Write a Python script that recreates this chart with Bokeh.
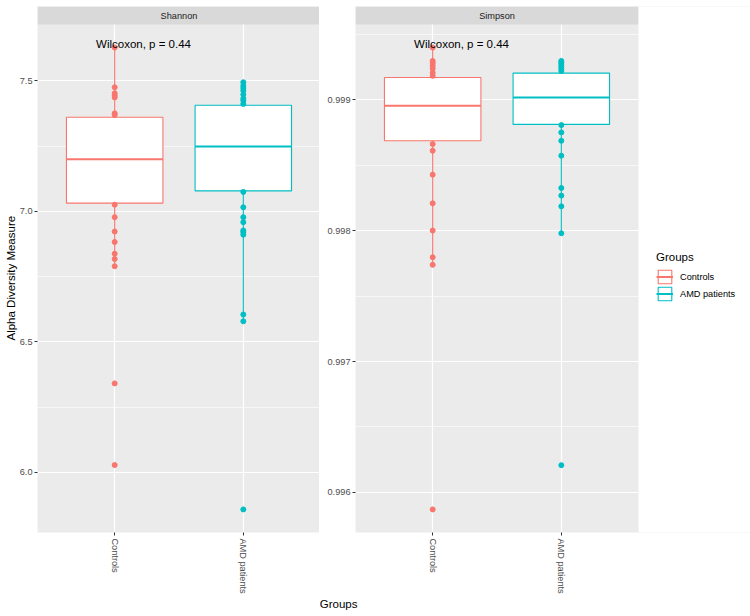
import math
from bokeh.plotting import figure
from bokeh.layouts import row
from bokeh.models import (Range1d, FixedTicker, NumeralTickFormatter, BoxAnnotation,
                          Label, Legend, LegendItem, Title)
from bokeh.embed import file_html
from bokeh.resources import INLINE

# ---------------- data ----------------
groups = ["Controls", "AMD patients"]
group_colors = ["#F8766D", "#00BFC4"]
legend_title = "Groups"
x_title = "Groups"
y_title = "Alpha Diversity Measure"
test_label = "Wilcoxon, p = 0.44"

# Shannon panel
shannon_ticks = [6.0, 6.5, 7.0, 7.5]
shannon_minor = [6.25, 6.75, 7.25]
shannon_q1 = [7.032, 7.079]
shannon_median = [7.200, 7.249]
shannon_q3 = [7.361, 7.407]
shannon_whisker_low = [6.790, 6.579]
shannon_whisker_high = [7.628, 7.495]
shannon_points_controls = [7.628, 7.476, 7.453, 7.444, 7.437, 7.376, 7.370,
                           7.026, 6.978, 6.923, 6.883, 6.838, 6.818, 6.790,
                           6.341, 6.028]
shannon_points_amd = [7.495, 7.482, 7.473, 7.463, 7.448, 7.433, 7.425, 7.412,
                      7.075, 7.016, 6.978, 6.959, 6.927, 6.921, 6.911,
                      6.605, 6.579, 5.858]
shannon_label_y = 7.642

# Simpson panel
simpson_ticks = [0.996, 0.997, 0.998, 0.999]
simpson_minor = [0.9965, 0.9975, 0.9985, 0.9995]
simpson_q1 = [0.998687, 0.998812]
simpson_median = [0.998954, 0.999018]
simpson_q3 = [0.999170, 0.999204]
simpson_whisker_low = [0.997739, 0.997980]
simpson_whisker_high = [0.999399, 0.999297]
simpson_points_controls = [0.999399, 0.999297, 0.999280, 0.999259, 0.999239,
                           0.999208, 0.999183,
                           0.998662, 0.998611, 0.998428, 0.998209, 0.998001,
                           0.997797, 0.997739, 0.995870]
simpson_points_amd = [0.999297, 0.999285, 0.999272, 0.999254, 0.999239, 0.999221,
                      0.998807, 0.998751, 0.998687, 0.998573, 0.998326,
                      0.998268, 0.998186, 0.997980, 0.996208]
simpson_label_y = 0.999425

# ---------------- layout constants ----------------
FONT = "Liberation Sans"
FIG_H = 616
TOP = 6
BOTTOM = 84
STRIP = 18
BOX_W = 0.75
PANEL_W = 283
positions = [i + 1 for i in range(len(groups))]
X_LO, X_HI = 0.4, len(groups) + 0.6


def make_panel(width, left, strip_text, ticks, minor, fmt,
               q1, med, q3, wlo, whi, pts, label_y):
    allv = [v for ps in pts for v in ps] + wlo + whi
    lo, hi = min(allv), max(allv)
    pad = 0.05 * (hi - lo)
    lo, hi = lo - pad, hi + pad
    panel_px = FIG_H - TOP - BOTTOM - STRIP
    top = hi + STRIP * (hi - lo) / panel_px

    frame_w = width - left
    x_end = X_LO + (X_HI - X_LO) * frame_w / PANEL_W

    p = figure(width=width, height=FIG_H,
               x_range=Range1d(X_LO, x_end),
               y_range=Range1d(lo, top),
               output_backend="svg", toolbar_location=None,
               min_border_left=left, min_border_right=0,
               min_border_top=TOP, min_border_bottom=BOTTOM,
               background_fill_color="#EBEBEB", border_fill_color="white",
               outline_line_color=None)

    # grids
    p.xgrid.ticker = FixedTicker(ticks=positions)
    p.xgrid.grid_line_color = "white"
    p.xgrid.grid_line_width = 1.2
    p.ygrid.ticker = FixedTicker(ticks=ticks, minor_ticks=minor)
    p.ygrid.grid_line_color = "white"
    p.ygrid.grid_line_width = 1.2
    p.ygrid.minor_grid_line_color = "white"
    p.ygrid.minor_grid_line_width = 0.6

    # axes
    p.xaxis.ticker = FixedTicker(ticks=positions)
    p.xaxis.major_label_overrides = {pos: g for pos, g in zip(positions, groups)}
    p.xaxis.major_label_orientation = -math.pi / 2
    p.xaxis.major_label_standoff = 3
    p.yaxis.ticker = FixedTicker(ticks=ticks)
    p.yaxis.formatter = NumeralTickFormatter(format=fmt)
    p.yaxis.major_label_standoff = 2
    for ax in (p.xaxis[0], p.yaxis[0]):
        ax.axis_line_color = None
        ax.major_tick_line_color = "#333333"
        ax.major_tick_out = 3
        ax.major_tick_in = 0
        ax.minor_tick_line_color = None
        ax.major_label_text_font = FONT
        ax.major_label_text_font_size = "9.2px"
        ax.major_label_text_color = "#4D4D4D"

    # boxplots
    p.segment(x0=positions, y0=wlo, x1=positions, y1=whi,
              line_color=group_colors, line_width=1.1)
    box_r = p.vbar(x=positions, width=BOX_W, bottom=q1, top=q3,
                   fill_color="white", line_color=group_colors, line_width=1.1)
    med_r = p.segment(x0=[x - BOX_W / 2 for x in positions], y0=med,
                      x1=[x + BOX_W / 2 for x in positions], y1=med,
                      line_color=group_colors, line_width=2.0)
    for pos, c, ps in zip(positions, group_colors, pts):
        p.scatter(x=[pos] * len(ps), y=ps, size=5, fill_color=c, line_color=c)

    # facet strip
    p.add_layout(BoxAnnotation(bottom=hi, right=X_HI, fill_color="#D9D9D9",
                               fill_alpha=1.0, line_color=None))
    # blank area right of the panel (room for the legend)
    if x_end > X_HI + 1e-9:
        p.add_layout(BoxAnnotation(left=X_HI, fill_color="white", fill_alpha=1.0,
                                   line_color=None))
    p.add_layout(Label(x=(X_LO + X_HI) / 2, y=(hi + top) / 2, text=strip_text,
                       text_align="center", text_baseline="middle",
                       text_font=FONT, text_font_size="9.2px", text_color="#1A1A1A"))
    # test label
    p.add_layout(Label(x=positions[0] - 0.145, y=label_y, text=test_label,
                       text_align="left", text_baseline="middle",
                       text_font=FONT, text_font_size="11.5px", text_color="black"))
    return p, box_r, med_r


p1, _, _ = make_panel(319, 37, "Shannon", shannon_ticks, shannon_minor, "0.0",
                      shannon_q1, shannon_median, shannon_q3,
                      shannon_whisker_low, shannon_whisker_high,
                      [shannon_points_controls, shannon_points_amd], shannon_label_y)
p1.add_layout(Title(text=y_title, align="left", offset=192, standoff=0,
                    text_font=FONT, text_font_size="11.5px", text_font_style="normal",
                    text_color="black"), "left")

p2, box_r, med_r = make_panel(431, 36, "Simpson", simpson_ticks, simpson_minor, "0.000",
                              simpson_q1, simpson_median, simpson_q3,
                              simpson_whisker_low, simpson_whisker_high,
                              [simpson_points_controls, simpson_points_amd], simpson_label_y)
p2.add_layout(Title(text=x_title, align="left", offset=-35.7, standoff=0,
                    vertical_align="middle",
                    text_font=FONT, text_font_size="11.5px", text_font_style="normal",
                    text_color="black"), "below")

items = [LegendItem(label=g, renderers=[box_r, med_r], index=i) for i, g in enumerate(groups)]
legend = Legend(items=items, title=legend_title, location=(301, 230),
                title_text_font=FONT, title_text_font_size="11.5px",
                title_text_font_style="normal", title_text_color="black",
                title_standoff=5,
                label_text_font=FONT, label_text_font_size="9.2px", label_text_color="black",
                glyph_width=17, glyph_height=17, label_height=17, spacing=0,
                label_standoff=7, padding=0, margin=0,
                border_line_color=None, background_fill_alpha=0)
p2.add_layout(legend)

layout = row(p1, p2)
open("out.html", "w").write(file_html(layout, INLINE))
